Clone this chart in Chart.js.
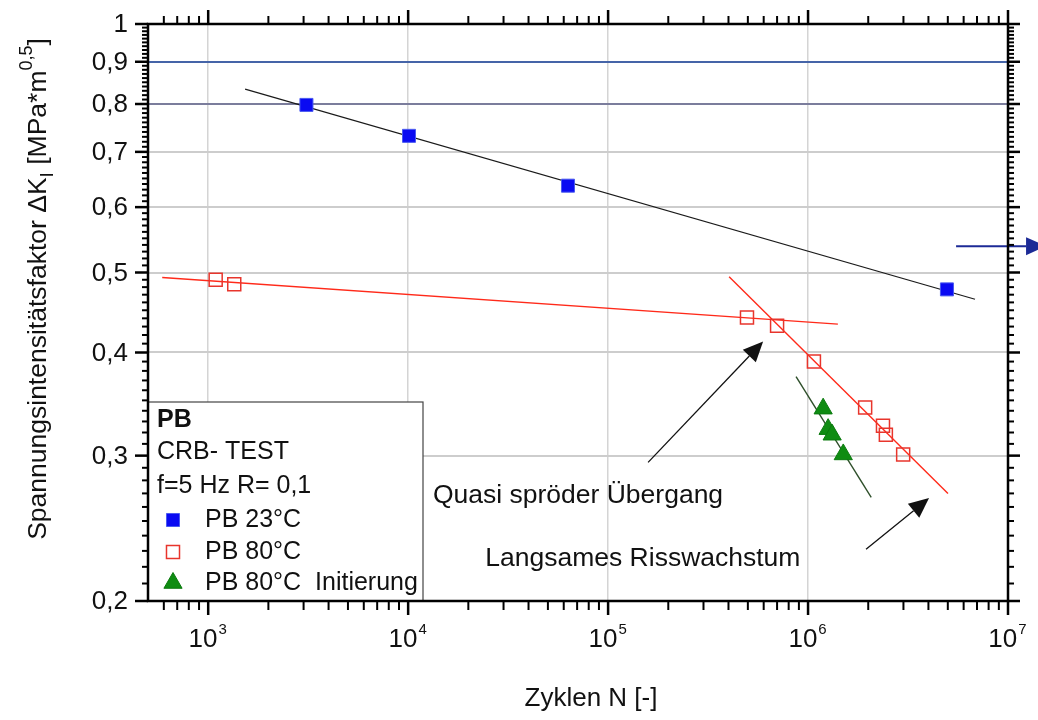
<!DOCTYPE html>
<html lang="de">
<head>
<meta charset="utf-8">
<title>PB CRB-Test</title>
<script src="https://cdn.jsdelivr.net/npm/chart.js@4.4.1/dist/chart.umd.min.js"></script>
<style>
  html, body { margin: 0; padding: 0; background: #fff; }
  #wrap { width: 1038px; height: 720px; }
</style>
</head>
<body>
<div id="wrap"><canvas id="crbChart" width="1038" height="720"></canvas></div>
<script>
// Messwerte: Zyklen N und Spannungsintensitaetsfaktor dK_I
const pb23Cycles = [3.1e3, 1.01e4, 6.3e4, 4.95e6];
const pb23DeltaK = [0.798, 0.732, 0.637, 0.477];

const pb80Cycles = [1.09e3, 1.35e3, 4.95e5, 7.0e5, 1.07e6, 1.93e6, 2.37e6, 2.45e6, 2.99e6];
const pb80DeltaK = [0.490, 0.484, 0.441, 0.431, 0.390, 0.343, 0.326, 0.318, 0.301];

const pb80InitCycles = [1.19e6, 1.26e6, 1.32e6, 1.50e6];
const pb80InitDeltaK = [0.342, 0.323, 0.318, 0.301];

// Ausgleichsgeraden (Anfangs- und Endpunkt)
const fit23Cycles = [1.53e3, 6.84e6];
const fit23DeltaK = [0.834, 0.464];
const fit80FlatCycles = [589, 1.41e6];
const fit80FlatDeltaK = [0.493, 0.433];
const fit80SteepCycles = [4.03e5, 5.01e6];
const fit80SteepDeltaK = [0.494, 0.270];
const fitInitCycles = [8.71e5, 2.07e6];
const fitInitDeltaK = [0.374, 0.267];

const seriesNames = ["PB 23°C", "PB 80°C", "PB 80°C  Initierung"];
const legendHeader = ["PB", "CRB- TEST", "f=5 Hz R= 0,1"];

const xTickValues = [1e3, 1e4, 1e5, 1e6, 1e7];
const xTickExponents = ["3", "4", "5", "6", "7"];
const yTickValues = [0.2, 0.3, 0.4, 0.5, 0.6, 0.7, 0.8, 0.9, 1.0];
const yTickLabels = ["0,2", "0,3", "0,4", "0,5", "0,6", "0,7", "0,8", "0,9", "1"];

// Pfeile und Beschriftungen im Diagramm (Datenkoordinaten)
const arrows = [
  { from: [1.585e5, 0.2944], to: [5.96e5, 0.4125], color: "#111" },
  { from: [1.95e6, 0.231], to: [4.03e6, 0.2665], color: "#111" },
  { from: [5.5e6, 0.538], to: [1.55e7, 0.538], color: "#1c2a96" },
];
const notes = [
  { text: "Quasi spröder Übergang", at: [1.33e4, 0.268] },
  { text: "Langsames Risswachstum", at: [2.43e4, 0.2249] },
];

const FONT = "'Liberation Sans', Arial, sans-serif";
Chart.defaults.font.family = FONT;

function toPoints(xs, ys) {
  return xs.map((x, i) => ({ x: x, y: ys[i] }));
}

function fitLine(xs, ys, color, width) {
  return {
    data: toPoints(xs, ys),
    showLine: true,
    borderColor: color,
    borderWidth: width,
    pointRadius: 0,
    order: 2,
  };
}

function line(ctx, x1, y1, x2, y2) {
  ctx.beginPath();
  ctx.moveTo(x1, y1);
  ctx.lineTo(x2, y2);
  ctx.stroke();
}

function drawArrow(ctx, x1, y1, x2, y2, color) {
  const ang = Math.atan2(y2 - y1, x2 - x1);
  const len = 20, half = 9;
  const bx = x2 - len * Math.cos(ang), by = y2 - len * Math.sin(ang);
  ctx.strokeStyle = color;
  ctx.fillStyle = color;
  ctx.lineWidth = color === "#111" ? 1.3 : 2;
  line(ctx, x1, y1, bx, by);
  ctx.beginPath();
  ctx.moveTo(x2, y2);
  ctx.lineTo(bx + half * Math.sin(ang), by - half * Math.cos(ang));
  ctx.lineTo(bx - half * Math.sin(ang), by + half * Math.cos(ang));
  ctx.closePath();
  ctx.fill();
}

function drawMarker(ctx, ds, x, y) {
  ctx.save();
  ctx.fillStyle = ds.backgroundColor;
  ctx.strokeStyle = ds.borderColor;
  ctx.lineWidth = ds.borderWidth;
  Chart.helpers.drawPoint(ctx, {
    pointStyle: ds.pointStyle,
    radius: ds.pointRadius,
    rotation: 0,
    borderWidth: ds.borderWidth,
  }, x, y);
  ctx.restore();
}

const framePlugin = {
  id: "frame",
  afterDatasetsDraw(chart) {
    const ctx = chart.ctx;
    const xs = chart.scales.x, ys = chart.scales.y;
    ctx.save();
    arrows.forEach(a => {
      drawArrow(ctx,
        xs.getPixelForValue(a.from[0]), ys.getPixelForValue(a.from[1]),
        xs.getPixelForValue(a.to[0]), ys.getPixelForValue(a.to[1]), a.color);
    });
    ctx.fillStyle = "#111";
    ctx.font = "26.5px " + FONT;
    ctx.textAlign = "left";
    ctx.textBaseline = "middle";
    notes.forEach(n => {
      ctx.fillText(n.text, xs.getPixelForValue(n.at[0]), ys.getPixelForValue(n.at[1]));
    });
    ctx.restore();
  },
  afterDraw(chart) {
    const ctx = chart.ctx;
    const area = chart.chartArea;
    const xs = chart.scales.x, ys = chart.scales.y;
    ctx.save();

    // Legende
    const lx = area.left, ly = 402, lr = 423;
    ctx.fillStyle = "#fff";
    ctx.fillRect(lx, ly, lr - lx, area.bottom - ly);
    ctx.strokeStyle = "#444";
    ctx.lineWidth = 1.2;
    ctx.strokeRect(lx, ly, lr - lx, area.bottom - ly);
    ctx.fillStyle = "#111";
    ctx.textAlign = "left";
    ctx.textBaseline = "middle";
    const rowsY = [420, 452, 486, 520, 552, 583];
    legendHeader.forEach((t, i) => {
      ctx.font = (i === 0 ? "bold " : "") + "25px " + FONT;
      ctx.fillText(t, lx + 9, rowsY[i]);
    });
    ctx.font = "25px " + FONT;
    seriesNames.forEach((name, i) => {
      const y = rowsY[3 + i];
      drawMarker(ctx, chart.data.datasets[i], lx + 25, y);
      ctx.fillStyle = "#111";
      ctx.fillText(name, lx + 57, y);
    });

    // Rahmen
    ctx.strokeStyle = "#000";
    ctx.lineWidth = 2.5;
    ctx.strokeRect(area.left, area.top, area.right - area.left, area.bottom - area.top);

    // Teilstriche x
    const xMinor = [];
    for (let d = 100; d <= 1e6; d *= 10) {
      for (let m = 2; m <= 9; m++) {
        const v = m * d;
        if (v > 500 && v < 1e7) xMinor.push(v);
      }
    }
    ctx.lineWidth = 2;
    xMinor.forEach(v => {
      const x = xs.getPixelForValue(v);
      line(ctx, x, area.bottom, x, area.bottom + 9);
      line(ctx, x, area.top, x, area.top - 8);
    });
    ctx.lineWidth = 2.5;
    xTickValues.forEach(v => {
      const x = xs.getPixelForValue(v);
      line(ctx, x, area.bottom, x, area.bottom + 14);
      line(ctx, x, area.top, x, area.top - 14);
    });

    // Teilstriche y
    ctx.lineWidth = 2;
    for (let i = 21; i < 100; i++) {
      if (i % 10 === 0) continue;
      const y = ys.getPixelForValue(i / 100);
      line(ctx, area.left, y, area.left - 6, y);
      line(ctx, area.right, y, area.right + 6, y);
    }
    ctx.lineWidth = 2.5;
    yTickValues.forEach(v => {
      const y = ys.getPixelForValue(v);
      line(ctx, area.left, y, area.left - 13, y);
      line(ctx, area.right, y, area.right + 12, y);
    });

    // Achsenbeschriftung
    ctx.fillStyle = "#111";
    ctx.font = "26px " + FONT;
    ctx.textAlign = "right";
    ctx.textBaseline = "middle";
    yTickValues.forEach((v, i) => {
      ctx.fillText(yTickLabels[i], area.left - 20, ys.getPixelForValue(v) + 1);
    });

    ctx.textAlign = "left";
    ctx.textBaseline = "alphabetic";
    xTickValues.forEach((v, i) => {
      const x = xs.getPixelForValue(v);
      ctx.font = "26px " + FONT;
      const w1 = ctx.measureText("10").width;
      ctx.font = "15px " + FONT;
      const w2 = ctx.measureText(xTickExponents[i]).width;
      const start = x - (w1 + w2) / 2 - 1;
      ctx.font = "26px " + FONT;
      ctx.fillText("10", start, area.bottom + 46);
      ctx.font = "15px " + FONT;
      ctx.fillText(xTickExponents[i], start + w1 + 1, area.bottom + 33);
    });

    ctx.font = "26px " + FONT;
    ctx.textAlign = "center";
    ctx.textBaseline = "middle";
    ctx.fillText("Zyklen N [-]", 591, 699);

    // y-Titel mit Index und Exponent
    const parts = [
      { t: "Spannungsintensitätsfaktor ΔK", size: 26.5, dy: 0 },
      { t: "I", size: 19, dy: 7 },
      { t: " [MPa*m", size: 26.5, dy: 0 },
      { t: "0,5", size: 18, dy: -14 },
      { t: "]", size: 26.5, dy: 0 },
    ];
    let total = 0;
    parts.forEach(p => {
      ctx.font = p.size + "px " + FONT;
      p.w = ctx.measureText(p.t).width;
      total += p.w;
    });
    ctx.translate(46, 289);
    ctx.rotate(-Math.PI / 2);
    ctx.textAlign = "left";
    ctx.textBaseline = "alphabetic";
    let cx = -total / 2;
    parts.forEach(p => {
      ctx.font = p.size + "px " + FONT;
      ctx.fillText(p.t, cx, p.dy);
      cx += p.w;
    });
    ctx.restore();
  },
};

function yGridColor(c) {
  const v = c.tick ? Math.round(c.tick.value * 10) / 10 : 0;
  if (v === 0.9) return "#4564a8";
  if (v === 0.8) return "#7b7d9c";
  if (v === 0.2 || v === 1) return "rgba(0,0,0,0)";
  return "#cdcdcd";
}

new Chart(document.getElementById("crbChart"), {
  type: "scatter",
  data: {
    datasets: [
      {
        label: seriesNames[0],
        data: toPoints(pb23Cycles, pb23DeltaK),
        pointStyle: "rect",
        pointRadius: 9.2,
        backgroundColor: "#0a0af2",
        borderColor: "#4a5af0",
        borderWidth: 1,
        order: 0,
      },
      {
        label: seriesNames[1],
        data: toPoints(pb80Cycles, pb80DeltaK),
        pointStyle: "rect",
        pointRadius: 9.2,
        backgroundColor: "rgba(255,255,255,0)",
        borderColor: "#e8352c",
        borderWidth: 1.5,
        order: 0,
      },
      {
        label: seriesNames[2],
        data: toPoints(pb80InitCycles, pb80InitDeltaK),
        pointStyle: "triangle",
        pointRadius: 10.5,
        backgroundColor: "#0f8c12",
        borderColor: "#0b7a0e",
        borderWidth: 1,
        order: 0,
      },
      fitLine(fit23Cycles, fit23DeltaK, "#1a1a1a", 1.2),
      fitLine(fit80FlatCycles, fit80FlatDeltaK, "#ff2a1a", 1.4),
      fitLine(fit80SteepCycles, fit80SteepDeltaK, "#ff2a1a", 1.4),
      fitLine(fitInitCycles, fitInitDeltaK, "#2e4f2a", 1.4),
    ],
  },
  options: {
    responsive: false,
    animation: false,
    layout: { padding: { top: 24, right: 30, left: 0, bottom: 0 } },
    plugins: {
      legend: { display: false },
      tooltip: { enabled: false },
    },
    scales: {
      x: {
        type: "logarithmic",
        min: 500,
        max: 1e7,
        afterBuildTicks: (scale) => {
          scale.ticks = xTickValues.map(v => ({ value: v }));
        },
        afterFit: (scale) => { scale.height = 119; },
        ticks: { display: false },
        border: { display: false },
        grid: {
          drawTicks: false,
          lineWidth: 1.5,
          color: (c) => (c.tick && c.tick.value >= 1e7 ? "rgba(0,0,0,0)" : "#d4d4d4"),
        },
      },
      y: {
        type: "logarithmic",
        min: 0.2,
        max: 1,
        afterBuildTicks: (scale) => {
          scale.ticks = yTickValues.map(v => ({ value: v }));
        },
        afterFit: (scale) => { scale.width = 148; },
        ticks: { display: false },
        border: { display: false },
        grid: {
          drawTicks: false,
          lineWidth: 2,
          color: yGridColor,
        },
      },
    },
  },
  plugins: [framePlugin],
});
</script>
</body>
</html>
